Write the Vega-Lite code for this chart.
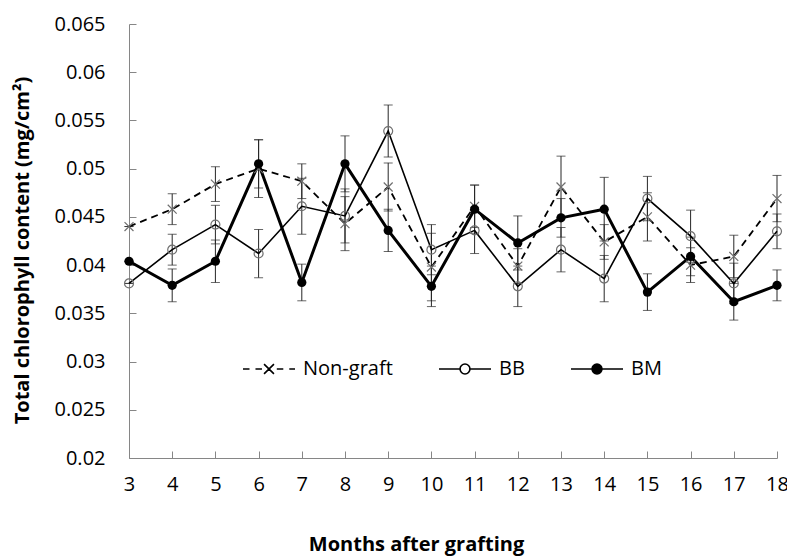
{
  "$schema": "https://vega.github.io/schema/vega-lite/v6.json",
  "width": 648,
  "height": 434,
  "autosize": "none",
  "padding": {"left": 129, "top": 24, "right": 10, "bottom": 99},
  "background": "white",
  "config": {
    "font": "Open Sans",
    "view": {"stroke": null},
    "axis": {"grid": false, "domainColor": "#868686", "tickColor": "#868686", "labelColor": "#000000", "titleColor": "#000000", "labelFont": "Open Sans", "titleFont": "Open Sans", "labelFontSize": 20, "titleFontSize": 20, "titleFontWeight": "bold", "tickSize": -7},
    "legend": {"title": null, "orient": "none", "legendX": 113, "legendY": 318, "direction": "horizontal",
      "symbolSize": 2704, "symbolStrokeColor": "#000000", "symbolOpacity": 1, "labelFontSize": 20, "labelFont": "Open Sans", "labelColor": "#000000", "labelOffset": 7, "columnPadding": 42}
  },
  "data": {"values": [
    {"month": 3, "series": "Non-graft", "chl": 0.0440, "se": 0},
    {"month": 4, "series": "Non-graft", "chl": 0.0458, "se": 0.0016},
    {"month": 5, "series": "Non-graft", "chl": 0.0484, "se": 0.0018},
    {"month": 6, "series": "Non-graft", "chl": 0.0500, "se": 0.0030},
    {"month": 7, "series": "Non-graft", "chl": 0.0487, "se": 0.0018},
    {"month": 8, "series": "Non-graft", "chl": 0.0443, "se": 0.0028},
    {"month": 9, "series": "Non-graft", "chl": 0.0481, "se": 0.0025},
    {"month": 10, "series": "Non-graft", "chl": 0.0398, "se": 0.0035},
    {"month": 11, "series": "Non-graft", "chl": 0.0461, "se": 0.0022},
    {"month": 12, "series": "Non-graft", "chl": 0.0399, "se": 0.0018},
    {"month": 13, "series": "Non-graft", "chl": 0.0481, "se": 0.0032},
    {"month": 14, "series": "Non-graft", "chl": 0.0424, "se": 0.0018},
    {"month": 15, "series": "Non-graft", "chl": 0.0450, "se": 0.0025},
    {"month": 16, "series": "Non-graft", "chl": 0.0400, "se": 0.0018},
    {"month": 17, "series": "Non-graft", "chl": 0.0409, "se": 0.0022},
    {"month": 18, "series": "Non-graft", "chl": 0.0469, "se": 0.0024},
    {"month": 3, "series": "BB", "chl": 0.0381, "se": 0},
    {"month": 4, "series": "BB", "chl": 0.0416, "se": 0.0016},
    {"month": 5, "series": "BB", "chl": 0.0442, "se": 0.0020},
    {"month": 6, "series": "BB", "chl": 0.0412, "se": 0.0025},
    {"month": 7, "series": "BB", "chl": 0.0461, "se": 0.0029},
    {"month": 8, "series": "BB", "chl": 0.0451, "se": 0.0028},
    {"month": 9, "series": "BB", "chl": 0.0539, "se": 0.0027},
    {"month": 10, "series": "BB", "chl": 0.0416, "se": 0.0026},
    {"month": 11, "series": "BB", "chl": 0.0436, "se": 0.0024},
    {"month": 12, "series": "BB", "chl": 0.0378, "se": 0.0021},
    {"month": 13, "series": "BB", "chl": 0.0416, "se": 0.0023},
    {"month": 14, "series": "BB", "chl": 0.0386, "se": 0.0024},
    {"month": 15, "series": "BB", "chl": 0.0469, "se": 0.0023},
    {"month": 16, "series": "BB", "chl": 0.0430, "se": 0.0027},
    {"month": 17, "series": "BB", "chl": 0.0381, "se": 0.0021},
    {"month": 18, "series": "BB", "chl": 0.0435, "se": 0.0018},
    {"month": 3, "series": "BM", "chl": 0.0404, "se": 0},
    {"month": 4, "series": "BM", "chl": 0.0379, "se": 0.0017},
    {"month": 5, "series": "BM", "chl": 0.0404, "se": 0.0022},
    {"month": 6, "series": "BM", "chl": 0.0505, "se": 0.0025},
    {"month": 7, "series": "BM", "chl": 0.0382, "se": 0.0019},
    {"month": 8, "series": "BM", "chl": 0.0505, "se": 0.0029},
    {"month": 9, "series": "BM", "chl": 0.0436, "se": 0.0022},
    {"month": 10, "series": "BM", "chl": 0.0378, "se": 0.0021},
    {"month": 11, "series": "BM", "chl": 0.0458, "se": 0.0025},
    {"month": 12, "series": "BM", "chl": 0.0423, "se": 0.0028},
    {"month": 13, "series": "BM", "chl": 0.0449, "se": 0.0020},
    {"month": 14, "series": "BM", "chl": 0.0458, "se": 0.0033},
    {"month": 15, "series": "BM", "chl": 0.0372, "se": 0.0019},
    {"month": 16, "series": "BM", "chl": 0.0409, "se": 0.0020},
    {"month": 17, "series": "BM", "chl": 0.0362, "se": 0.0019},
    {"month": 18, "series": "BM", "chl": 0.0379, "se": 0.0016}
  ]},
  "encoding": {
    "x": {"field": "month", "type": "quantitative",
      "scale": {"domain": [3, 18], "nice": false, "zero": false},
      "axis": {"title": "Months after grafting", "values": [3,4,5,6,7,8,9,10,11,12,13,14,15,16,17,18], "format": "d", "labelPadding": 23, "labelFlush": false, "titleX": 287, "titleY": 76, "titleAlign": "center", "titleBaseline": "top"}},
    "y": {"field": "chl", "type": "quantitative",
      "scale": {"domain": [0.02, 0.065], "nice": false, "zero": false},
      "axis": {"title": "Total chlorophyll content (mg/cm²)", "values": [0.02,0.025,0.03,0.035,0.04,0.045,0.05,0.055,0.06,0.065], "format": "~g", "labelPadding": 31, "titleX": -107, "titleY": 226, "titleAngle": -90, "titleAlign": "center", "titleBaseline": "middle"}}
  },
  "layer": [
    {"mark": {"type": "errorbar", "color": "#262626", "thickness": 1, "ticks": {"size": 9, "color": "#262626", "thickness": 1}},
     "encoding": {"yError": {"field": "se"}}},
    {"transform": [{"filter": "datum.series === 'Non-graft'"}],
     "mark": {"type": "line", "color": "#000000", "strokeWidth": 1.8, "strokeDash": [7, 5]}, "encoding": {}},
    {"transform": [{"filter": "datum.series === 'BB'"}],
     "mark": {"type": "line", "color": "#000000", "strokeWidth": 1.6}, "encoding": {}},
    {"transform": [{"filter": "datum.series === 'BM'"}],
     "mark": {"type": "line", "color": "#000000", "strokeWidth": 3}, "encoding": {}},
    {"transform": [{"filter": "datum.series === 'Non-graft'"}],
     "mark": {"type": "point", "shape": "M-1,-1L1,1M-1,1L1,-1", "filled": false, "color": "#6f6f6f", "opacity": 1, "size": 80, "strokeWidth": 1.2}},
    {"transform": [{"filter": "datum.series === 'BB'"}],
     "mark": {"type": "point", "shape": "circle", "filled": false, "color": "#6f6f6f", "opacity": 1, "size": 80, "strokeWidth": 1.2}},
    {"transform": [{"filter": "datum.series === 'BM'"}],
     "mark": {"type": "point", "shape": "circle", "filled": true, "color": "#000000", "opacity": 1, "size": 85}},
    {"mark": {"type": "point", "filled": false, "opacity": 1, "size": 0},
     "encoding": {
       "shape": {"field": "series", "type": "nominal",
         "scale": {"domain": ["Non-graft", "BB", "BM"], "range": [
           "M-1,0H-0.75M-0.52,0H-0.27M-0.19,-0.19L0.19,0.19M-0.19,0.19L0.19,-0.19M0.3,0H0.55M0.78,0H1",
           "M-1,0H-0.19M0.19,0H1M-0.19,0A0.19,0.19 0 1,0 0.19,0A0.19,0.19 0 1,0 -0.19,0",
           "M-1,0H1M-0.19,0A0.19,0.19 0 1,0 0.19,0A0.19,0.19 0 1,0 -0.19,0"]}},
       "stroke": {"field": "series", "type": "nominal",
         "scale": {"domain": ["Non-graft", "BB", "BM"], "range": ["#000000", "#000000", "#000000"]}},
       "fill": {"field": "series", "type": "nominal",
         "scale": {"domain": ["Non-graft", "BB", "BM"], "range": ["transparent", "transparent", "#000000"]}},
       "strokeWidth": {"field": "series", "type": "nominal",
         "scale": {"domain": ["Non-graft", "BB", "BM"], "range": [1.6, 1.6, 3]}}
     }}
  ]
}
